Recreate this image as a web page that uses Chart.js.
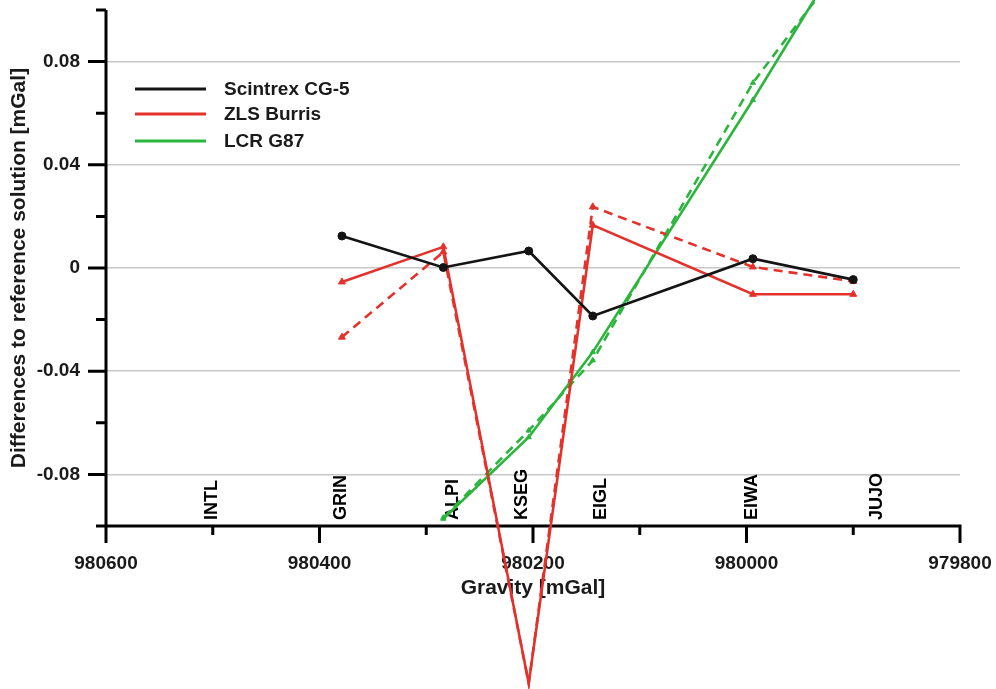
<!DOCTYPE html>
<html>
<head>
<meta charset="utf-8">
<script src="https://cdn.jsdelivr.net/npm/chart.js@4.4.1/dist/chart.umd.min.js"></script>
<style>
  html, body { margin: 0; padding: 0; background: #ffffff; }
  #wrap { width: 996px; height: 689px; position: relative; }
</style>
</head>
<body>
<div id="wrap"><canvas id="chart"></canvas></div>
<script>
const FONT = '"Liberation Sans", Arial, Helvetica, sans-serif';

// Station names and the gravity value where each name is written
const stations = ['INTL', 'GRIN', 'ALPI', 'KSEG', 'EIGL', 'EIWA', 'JUJO'];
const labelGravity = [980501, 980380, 980275, 980210, 980136, 979995, 979878];

// Gravity of the occupied stations (GRIN ... JUJO) [mGal]
const pointGravity = [980379, 980284, 980204, 980144, 979994, 979900];

// Differences to the reference solution [mGal]
const scintrexCG5   = [0.0124, 0.0002, 0.0066, -0.0186, 0.0036, -0.0045];
const zlsBurris     = [-0.0054, 0.0082, -0.161, 0.0166, -0.0102, -0.0102];
const zlsBurrisB    = [-0.0268, 0.0062, -0.161, 0.0237, 0.0004, -0.0052];
const lcrG87        = [null, -0.0972, -0.0656, -0.0326, 0.0651, 0.1287];
const lcrG87B       = [null, -0.0968, -0.0630, -0.0358, 0.0718, 0.1232];

// Axis ranges and tick steps
const xRange = [979800, 980600];
const yRange = [-0.1, 0.1];
const xStep = 100, xLabelStep = 200;
const yStep = 0.02, yLabelStep = 0.04;

const BLACK = '#141414';
const RED = '#e3322b';
const GREEN = '#2cb53d';

function toPoints(values) {
  return pointGravity
    .map((g, i) => ({ x: g, y: values[i] }))
    .filter(p => p.y !== null);
}

function isLabelledY(v) {
  const r = Math.round(v * 1000) / 1000;
  const k = Math.round(r / yLabelStep);
  return Math.abs(k * yLabelStep - r) < 1e-9 && Math.abs(r) < 0.099;
}

function series(label, values, color, style, radius, dashed, inLegend) {
  return {
    label: label,
    data: toPoints(values),
    showLine: true,
    borderColor: color,
    backgroundColor: color,
    borderWidth: 2.6,
    borderDash: dashed ? [9, 6] : [],
    pointStyle: style,
    pointRadius: radius,
    pointBorderWidth: 1,
    pointBackgroundColor: color,
    pointBorderColor: color,
    tension: 0,
    clip: false,
    inLegend: inLegend
  };
}

// Fixed scale sizes, no extra edge padding for labels
function fixScale(size) {
  return s => {
    if (s.isHorizontal()) s.height = size; else s.width = size;
    s.paddingTop = 0; s.paddingBottom = 0;
    s.paddingLeft = 0; s.paddingRight = 0;
  };
}

// Axis lines, tick marks and vertical station names
const axesPlugin = {
  id: 'axesPlugin',
  beforeDatasetsDraw(chart) {
    const { ctx, chartArea: a, scales: { x, y } } = chart;
    ctx.save();
    ctx.strokeStyle = '#000';
    ctx.lineWidth = 3;
    ctx.lineCap = 'butt';
    ctx.beginPath();
    ctx.moveTo(a.left, a.top);
    ctx.lineTo(a.left, a.bottom + 1.5);
    ctx.moveTo(a.left, a.bottom);
    ctx.lineTo(a.right + 1.5, a.bottom);
    y.ticks.forEach(t => {
      const py = y.getPixelForValue(t.value);
      const len = t.label ? 18 : 10;
      ctx.moveTo(a.left - len, py);
      ctx.lineTo(a.left, py);
    });
    x.ticks.forEach(t => {
      const px = x.getPixelForValue(t.value);
      const len = t.label ? 17 : 9;
      ctx.moveTo(px, a.bottom);
      ctx.lineTo(px, a.bottom + len);
    });
    ctx.stroke();

    ctx.fillStyle = '#000';
    ctx.font = 'bold 18px ' + FONT;
    ctx.textAlign = 'left';
    ctx.textBaseline = 'middle';
    stations.forEach((name, i) => {
      const px = x.getPixelForValue(labelGravity[i]);
      ctx.save();
      ctx.translate(px, a.bottom - 6);
      ctx.rotate(-Math.PI / 2);
      ctx.fillText(name, 0, 0);
      ctx.restore();
    });
    ctx.restore();
  }
};

// Legend with line samples in the upper left of the plot
const legendPlugin = {
  id: 'legendPlugin',
  afterDraw(chart) {
    const { ctx, chartArea: a } = chart;
    const rows = [79, 104, 131];
    ctx.save();
    ctx.font = 'bold 19px ' + FONT;
    ctx.textAlign = 'left';
    ctx.textBaseline = 'middle';
    ctx.fillStyle = '#1a1a1a';
    chart.data.datasets.filter(d => d.inLegend).forEach((d, i) => {
      const yy = a.top + rows[i];
      ctx.strokeStyle = d.borderColor;
      ctx.lineWidth = 3;
      ctx.setLineDash([]);
      ctx.beginPath();
      ctx.moveTo(a.left + 29, yy);
      ctx.lineTo(a.left + 100, yy);
      ctx.stroke();
      ctx.fillText(d.label, a.left + 118, yy + 1);
    });
    ctx.restore();
  }
};

new Chart(document.getElementById('chart'), {
  type: 'scatter',
  data: {
    datasets: [
      series('Scintrex CG-5', scintrexCG5, BLACK, 'circle', 4, false, true),
      series('ZLS Burris', zlsBurris, RED, 'triangle', 4, false, true),
      series('LCR G87', lcrG87, GREEN, 'triangle', 3, false, true),
      series('ZLS Burris, second solution', zlsBurrisB, RED, 'triangle', 4, true, false),
      series('LCR G87, second solution', lcrG87B, GREEN, 'triangle', 3, true, false)
    ]
  },
  options: {
    responsive: true,
    maintainAspectRatio: false,
    animation: false,
    layout: { padding: { top: 10, right: 36, left: 0, bottom: 0 } },
    plugins: {
      legend: { display: false },
      tooltip: { enabled: false }
    },
    scales: {
      x: {
        type: 'linear',
        reverse: true,
        min: xRange[0],
        max: xRange[1],
        grid: { display: false, drawTicks: false },
        border: { display: false },
        ticks: {
          stepSize: xStep,
          autoSkip: false,
          maxRotation: 0,
          padding: 26,
          color: '#1a1a1a',
          font: { family: FONT, size: 19, weight: 'bold' },
          callback: v => (Math.round(v) % xLabelStep === 0 ? String(Math.round(v)) : '')
        },
        title: {
          display: true,
          text: 'Gravity [mGal]',
          color: '#1a1a1a',
          font: { family: FONT, size: 21, weight: 'bold' },
          padding: { top: 0, bottom: 88 }
        },
        afterFit: fixScale(163)
      },
      y: {
        type: 'linear',
        min: yRange[0],
        max: yRange[1],
        grid: {
          drawTicks: false,
          lineWidth: 1.5,
          color: c => (c.tick && isLabelledY(c.tick.value) ? '#c8c8c8' : 'rgba(0,0,0,0)')
        },
        border: { display: false },
        ticks: {
          stepSize: yStep,
          autoSkip: false,
          padding: 26,
          color: '#1a1a1a',
          font: { family: FONT, size: 19, weight: 'bold' },
          callback: v => {
            if (!isLabelledY(v)) return '';
            const r = Math.round(v * 100) / 100;
            return r === 0 ? '0' : r.toFixed(2);
          }
        },
        title: {
          display: true,
          text: 'Differences to reference solution [mGal]',
          color: '#1a1a1a',
          font: { family: FONT, size: 21, weight: 'bold' },
          padding: { top: 7, bottom: 0 }
        },
        afterFit: fixScale(106)
      }
    }
  },
  plugins: [axesPlugin, legendPlugin]
});
</script>
</body>
</html>
